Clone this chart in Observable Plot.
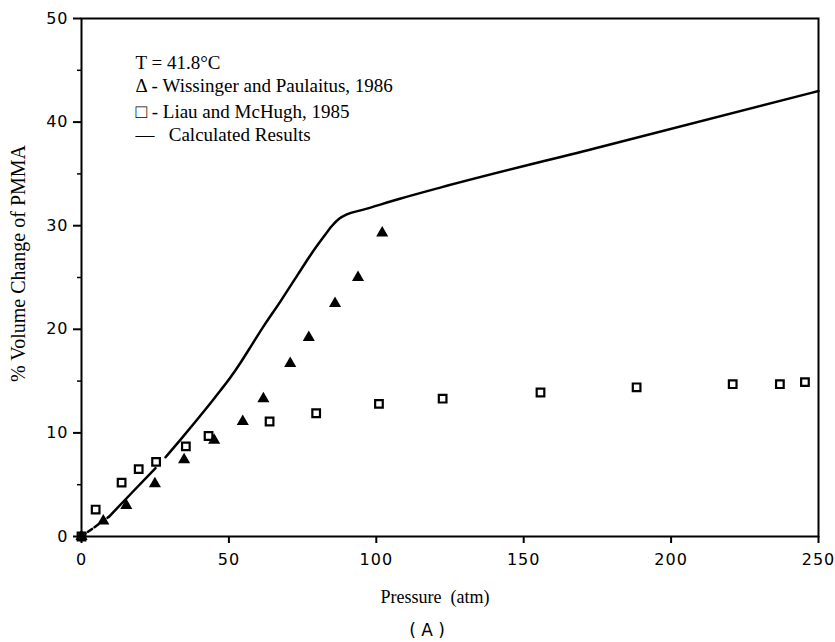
<!DOCTYPE html>
<html><head><meta charset="utf-8">
<script src="https://cdn.jsdelivr.net/npm/d3@7"></script>
<script src="https://cdn.jsdelivr.net/npm/@observablehq/plot@0.6"></script>
<style>body{margin:0;background:#fff}</style>
</head><body><div id="chart"></div>
<script>
// Wissinger and Paulaitus, 1986 (filled triangles)
const wissP = [0, 7.4, 15.2, 24.9, 34.8, 45.0, 54.7, 61.7, 70.8, 77.1, 86.0, 93.8, 102.0];
const wissV = [0, 1.5, 3.0, 5.1, 7.4, 9.3, 11.1, 13.3, 16.7, 19.2, 22.5, 25.0, 29.3];
// Liau and McHugh, 1985 (open squares)
const liauP = [0, 4.8, 13.6, 19.4, 25.3, 35.4, 43.1, 63.8, 79.6, 100.9, 122.5, 155.7, 188.3, 220.9, 236.9, 245.4];
const liauV = [0, 2.6, 5.2, 6.5, 7.2, 8.7, 9.7, 11.1, 11.9, 12.8, 13.3, 13.9, 14.4, 14.7, 14.7, 14.9];
// Calculated results (dashed start, then two solid pieces)
const calcDashP = [0, 9.3];
const calcDashV = [0, 1.9];
const calcP1 = [9.3, 17, 25.1];
const calcV1 = [1.9, 4.2, 6.6];
const calcP2 = [28.5, 33.6, 38.7, 44, 47, 50.5, 54, 58, 61.8, 67.5, 73.2, 78, 82.2, 85, 87.5, 90, 95, 108, 122, 176, 250];
const calcV2 = [7.65, 9.35, 11.1, 12.95, 14.05, 15.35, 16.8, 18.6, 20.3, 22.7, 25.2, 27.3, 28.95, 30.0, 30.7, 31.1, 31.5, 32.6, 33.7, 37.6, 43.0];
// Axis ticks and text
const xTicks = [0, 50, 100, 150, 200, 250];
const yTicks = [0, 10, 20, 30, 40, 50];
const yMinor = [5, 15, 25, 35, 45];
const xLabel = "Pressure  (atm)";
const yLabel = "% Volume Change of PMMA";
const caption = "( A )";
const legendLines = [
  "T = 41.8°C",
  "Δ - Wissinger and Paulaitus, 1986",
  "□ - Liau and McHugh, 1985",
  "—   Calculated Results"
];

const serif = "Liberation Serif, Times New Roman, serif";
const legendDy = [44, 67, 93, 116];

const plot = Plot.plot({
  width: 835,
  height: 642,
  marginLeft: 81,
  marginRight: 17,
  marginTop: 18,
  marginBottom: 106,
  style: {fontFamily: "DejaVu Sans, sans-serif", fontSize: "16px", color: "#000", background: "#fff"},
  x: {domain: [0, 250]},
  y: {domain: [0, 50]},
  marks: [
    Plot.frame({stroke: "#000", strokeWidth: 2}),
    Plot.axisX({ticks: xTicks, tickSize: 7, tickPadding: 10, label: null, strokeWidth: 2}),
    Plot.axisY({ticks: yTicks, tickSize: 8, tickPadding: 5, label: null, strokeWidth: 2}),
    Plot.axisY({ticks: yMinor, tickSize: 4, text: null, label: null, strokeWidth: 1.5}),
    Plot.line(d3.zip(calcDashP, calcDashV), {stroke: "#000", strokeWidth: 2.5, strokeDasharray: "5,3"}),
    Plot.line(d3.zip(calcP1, calcV1), {stroke: "#000", strokeWidth: 2.5, curve: "monotone-x"}),
    Plot.line(d3.zip(calcP2, calcV2), {stroke: "#000", strokeWidth: 2.5, curve: "monotone-x"}),
    Plot.dot(d3.zip(liauP, liauV), {symbol: "square", r: 4.3, stroke: "#000", strokeWidth: 2.2, fill: "#fff"}),
    Plot.dot(d3.zip(wissP, wissV), {symbol: "triangle", r: 4.5, fill: "#000", stroke: "none"}),
    ...legendLines.map((t, i) => Plot.text([t], {
      frameAnchor: "top-left", textAnchor: "start", lineAnchor: "middle",
      dx: 54, dy: legendDy[i], fontFamily: serif, fontSize: 19, fill: "#000"
    })),
    Plot.text([xLabel], {frameAnchor: "bottom", lineAnchor: "middle", dx: -15, dy: 61,
      fontFamily: serif, fontSize: 18, fill: "#000"}),
    Plot.text([yLabel], {frameAnchor: "left", rotate: -90, lineAnchor: "middle", textAnchor: "middle", dx: -63, dy: -14,
      fontFamily: serif, fontSize: 20, fill: "#000"}),
    Plot.text([caption], {frameAnchor: "bottom", lineAnchor: "middle", dx: -23, dy: 94,
      fontFamily: "DejaVu Sans, sans-serif", fontSize: 17, fill: "#000"})
  ]
});
d3.select(plot).selectAll('g[aria-label="x-axis tick label"], g[aria-label="y-axis tick label"]').style("letter-spacing", "1px");
d3.select(plot).selectAll("text").style("white-space", "pre");
document.getElementById("chart").appendChild(plot);
</script>
</body></html>
